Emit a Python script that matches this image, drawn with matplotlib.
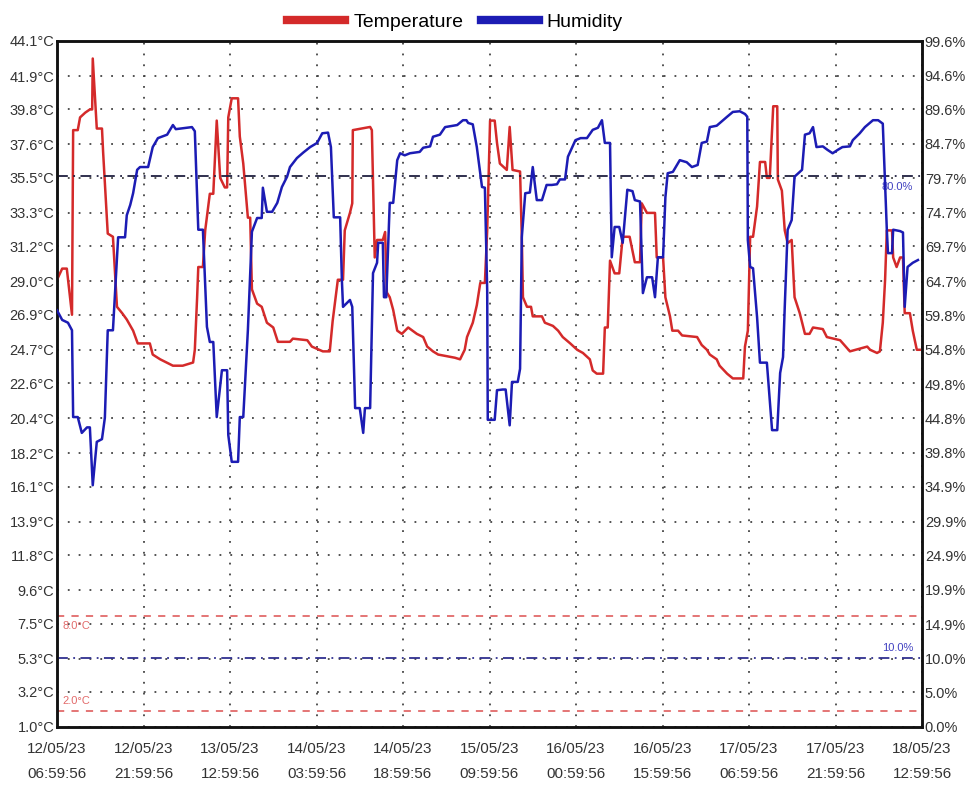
import matplotlib
matplotlib.use("Agg")
import matplotlib.pyplot as plt
from matplotlib.lines import Line2D
import pandas as pd

plt.rcParams['font.family'] = ['Liberation Sans', 'DejaVu Sans']

# hours since 12/05/23 06:59:56
temp_hours = [0.0, 0.9, 1.7, 2.6, 2.8, 3.6, 4.0, 4.9, 5.7, 6.1, 6.2, 6.9, 7.8, 8.0, 8.8, 9.7,
              10.4, 11.3, 12.1, 13.2, 14.0, 16.1, 16.6, 17.9, 20.1, 21.8, 23.6, 23.9, 24.3, 24.5,
              25.3, 25.7, 26.5, 27.1, 27.7, 28.3, 29.1, 29.5, 29.7, 30.3, 31.4, 31.7, 32.3, 33.1,
              33.5, 33.8, 34.7, 35.5, 36.4, 37.5, 38.3, 40.4, 40.9, 43.4, 44.2, 46.1, 47.3, 47.8,
              48.7, 49.6, 49.9, 50.8, 51.2, 51.3, 54.3, 54.6, 55.1, 55.5, 56.5, 56.9, 57.2, 57.7,
              58.3, 59.0, 59.8, 60.9, 62.4, 63.5, 64.2, 65.2, 66.1, 69.0, 69.9, 70.7, 71.1, 72.1,
              72.8, 73.4, 74.2, 74.6, 75.1, 75.9, 76.3, 76.8, 78.0, 78.5, 79.0, 80.3, 80.6, 80.8,
              81.5, 82.2, 82.5, 84.1, 84.6, 86.0, 86.9, 87.7, 89.0, 90.2, 91.2, 92.4, 92.9, 93.6,
              94.7, 95.0, 95.5, 95.9, 96.7, 97.5, 98.1, 99.3, 100.2, 101.1, 101.4, 102.3, 103.7,
              104.0, 105.1, 105.5, 106.3, 106.7, 107.7, 108.4, 111.0, 111.8, 112.7, 113.2, 114.4,
              114.9, 116.2, 117.2, 119.0, 119.3, 119.8, 120.2, 120.7, 121.4, 121.9, 122.8, 123.1,
              123.6, 124.2, 124.9, 125.0, 125.7, 126.2, 126.7, 127.4, 127.9, 128.8, 129.7, 130.5,
              131.1, 132.8, 133.5, 135.8, 137.5, 140.5, 141.0, 142.2, 142.7, 143.2, 143.6, 143.9,
              144.8, 145.0, 145.6, 146.2, 146.7, 147.0, 147.9, 148.4, 149.1, 149.6]
temperature = [29.1, 29.8, 29.8, 26.9, 38.5, 38.5, 39.3, 39.6, 39.8, 39.8, 43.0, 38.6, 38.6, 37.1,
               32.0, 31.8, 27.4, 27.0, 26.6, 25.9, 25.1, 25.1, 24.4, 24.1, 23.7, 23.7, 23.9, 24.7,
               28.0, 29.9, 29.9, 32.2, 34.5, 34.5, 39.1, 35.5, 34.9, 34.9, 39.3, 40.5, 40.5, 38.1,
               36.4, 33.0, 33.0, 28.5, 27.6, 27.4, 26.4, 26.1, 25.2, 25.2, 25.4, 25.3, 24.9, 24.6,
               24.6, 26.5, 29.1, 29.1, 32.2, 33.3, 33.9, 38.5, 38.7, 38.5, 30.5, 31.6, 31.6, 32.1,
               28.3, 28.0, 27.2, 25.9, 25.7, 26.1, 25.7, 25.5, 24.9, 24.6, 24.4, 24.2, 24.1, 24.7,
               25.5, 26.4, 27.5, 28.9, 28.9, 32.2, 39.1, 39.1, 37.7, 36.4, 36.0, 38.7, 36.0, 35.9,
               31.8, 28.0, 27.4, 27.4, 26.8, 26.8, 26.4, 26.2, 25.9, 25.5, 25.1, 24.7, 24.5, 24.1,
               23.4, 23.2, 23.2, 26.1, 26.1, 30.3, 29.5, 29.5, 31.8, 31.8, 30.2, 30.2, 33.9, 33.3,
               33.3, 30.5, 30.5, 28.0, 26.8, 25.9, 25.9, 25.6, 25.5, 25.0, 24.7, 24.4, 24.1, 23.7,
               23.2, 22.9, 22.9, 24.9, 25.9, 31.8, 31.8, 33.7, 36.5, 36.5, 35.5, 35.5, 40.0, 40.0,
               35.4, 34.7, 32.2, 31.4, 31.6, 28.0, 27.0, 25.7, 25.7, 26.1, 26.0, 25.5, 25.3, 24.6,
               24.9, 24.7, 24.5, 24.6, 26.4, 29.1, 32.2, 32.2, 30.5, 29.9, 30.5, 30.5, 27.0, 27.0,
               25.9, 24.7, 24.7]

hum_hours = [0.0, 0.9, 1.9, 2.6, 2.8, 3.6, 4.3, 5.2, 5.7, 6.2, 6.9, 7.8, 8.3, 8.8, 9.7, 10.6,
             11.8, 12.1, 12.7, 13.2, 13.9, 14.4, 15.8, 16.6, 17.5, 19.1, 20.1, 20.6, 23.4, 23.9,
             24.5, 25.3, 26.0, 26.5, 27.1, 27.7, 28.6, 29.5, 29.7, 30.3, 31.4, 31.7, 32.3, 33.1,
             33.8, 34.7, 35.5, 35.7, 36.4, 37.3, 38.2, 39.0, 39.9, 40.4, 41.6, 42.7, 43.9, 45.1,
             46.0, 47.0, 47.5, 48.0, 49.1, 49.4, 49.6, 50.8, 51.2, 51.7, 52.5, 53.1, 53.4, 54.3,
             54.8, 55.5, 55.7, 56.5, 56.7, 57.1, 57.7, 58.3, 59.0, 59.5, 60.3, 61.2, 62.9, 63.5,
             64.7, 65.2, 66.4, 67.3, 68.7, 69.4, 70.4, 71.0, 71.3, 72.1, 72.8, 73.7, 74.2, 74.6,
             74.7, 75.9, 76.3, 77.3, 77.8, 78.5, 78.9, 79.9, 80.3, 80.6, 81.2, 82.0, 82.5, 83.2,
             84.1, 84.9, 85.8, 86.7, 87.2, 88.1, 88.6, 89.9, 90.8, 91.9, 92.9, 93.8, 94.5, 95.0,
             95.9, 96.2, 96.7, 97.5, 98.1, 98.9, 99.8, 100.2, 101.1, 101.6, 102.3, 103.2, 103.7,
             104.2, 105.1, 105.5, 105.9, 106.8, 108.0, 109.2, 110.1, 111.1, 111.8, 112.7, 113.2,
             114.4, 116.2, 117.2, 118.4, 119.3, 119.7, 119.8, 120.2, 120.7, 121.4, 121.9, 123.1,
             124.0, 124.9, 125.4, 125.9, 126.2, 126.7, 127.4, 127.9, 129.2, 129.7, 130.5, 131.1,
             131.7, 132.8, 133.6, 134.5, 135.4, 136.2, 137.5, 138.0, 139.2, 140.1, 141.5, 142.4,
             143.2, 143.9, 144.1, 144.8, 145.0, 146.2, 146.7, 147.0, 147.5, 148.4, 149.3]
humidity = [60.5, 59.1, 58.7, 57.6, 45.0, 45.0, 42.7, 43.5, 43.5, 35.1, 41.4, 41.8, 44.9, 57.6,
            57.6, 71.1, 71.1, 74.3, 75.8, 77.5, 80.9, 81.3, 81.3, 84.2, 85.5, 86.0, 87.4, 86.8,
            87.1, 86.5, 72.2, 72.2, 58.1, 55.9, 55.9, 45.0, 51.8, 51.8, 42.4, 38.5, 38.5, 45.0,
            45.0, 57.6, 71.9, 73.9, 73.9, 78.3, 74.8, 74.8, 76.1, 78.4, 79.9, 81.3, 82.6, 83.4,
            84.2, 84.8, 86.2, 86.3, 84.2, 74.0, 74.0, 64.9, 61.0, 62.0, 61.0, 46.3, 46.3, 42.7,
            46.3, 46.3, 65.9, 67.4, 70.3, 70.3, 62.4, 62.4, 76.1, 76.1, 82.3, 83.3, 83.0, 83.3,
            83.5, 84.1, 84.3, 85.7, 86.0, 87.1, 87.3, 87.4, 88.1, 88.1, 87.7, 87.5, 84.2, 78.4,
            78.3, 63.4, 44.6, 44.6, 48.9, 49.0, 49.0, 43.8, 50.1, 50.1, 52.0, 71.1, 77.5, 77.6,
            81.3, 76.5, 76.5, 78.7, 78.7, 78.8, 79.5, 79.5, 82.8, 85.2, 85.5, 85.5, 86.7, 87.0,
            88.1, 84.8, 84.8, 68.2, 72.6, 72.6, 70.3, 78.0, 77.8, 76.5, 76.3, 63.0, 65.3, 65.3,
            62.4, 68.2, 68.2, 76.9, 80.4, 80.6, 82.3, 82.0, 81.3, 81.6, 84.8, 85.0, 87.1, 87.3,
            88.6, 89.3, 89.4, 89.0, 88.6, 70.7, 66.8, 66.6, 59.5, 52.9, 52.9, 43.1, 43.1, 51.4,
            53.7, 61.0, 72.2, 73.6, 79.9, 80.9, 86.0, 86.2, 87.1, 84.2, 84.3, 83.8, 83.3, 83.8,
            84.2, 84.3, 85.2, 86.2, 87.1, 88.1, 88.1, 87.6, 72.2, 68.8, 68.8, 72.2, 72.0, 71.8,
            61.0, 66.8, 67.4, 67.8]

temp_ticks = [1.0, 3.2, 5.3, 7.5, 9.6, 11.8, 13.9, 16.1, 18.2, 20.4, 22.6, 24.7, 26.9, 29.0,
              31.2, 33.3, 35.5, 37.6, 39.8, 41.9, 44.1]
hum_ticks = [0.0, 5.0, 10.0, 14.9, 19.9, 24.9, 29.9, 34.9, 39.8, 44.8, 49.8, 54.8, 59.8, 64.7,
             69.7, 74.7, 79.7, 84.7, 89.6, 94.6, 99.6]
start_time = pd.Timestamp('2023-05-12 06:59:56')
x_tick_hours = [0, 15, 30, 45, 60, 75, 90, 105, 120, 135, 150]
temp_limits = [8.0, 2.0]
hum_limits = [80.0, 10.0]

x_labels = [(start_time + pd.Timedelta(hours=h)).strftime('%d/%m/%y\n%H:%M:%S') for h in x_tick_hours]

RED = '#d42a2a'
BLUE = '#1c1cb4'

fig = plt.figure(figsize=(9.66, 7.85), dpi=100)
ax = fig.add_axes([57 / 966, 1 - 727 / 785, (922 - 57) / 966, (727 - 41) / 785])
ax2 = ax.twinx()

ax.set_xlim(0, 150)
ax.set_ylim(1.0, 44.1)
ax2.set_ylim(0.0, 99.6)

ax.set_xticks(x_tick_hours)
ax.set_xticklabels(x_labels, linespacing=1.95)
ax.set_yticks(temp_ticks)
ax.set_yticklabels([f'{v:.1f}°C' for v in temp_ticks])
ax2.set_yticks(hum_ticks)
ax2.set_yticklabels([f'{v:.1f}%' for v in hum_ticks])

for a in (ax, ax2):
    a.tick_params(length=0, labelsize=10.5, labelcolor='#333333', pad=2)
    for s in a.spines.values():
        s.set_linewidth(1.8)
        s.set_color('#111111')
ax.tick_params(axis='x', pad=11, labelsize=11)

ax.grid(True, color='#444444', linestyle=(0, (1, 5)), linewidth=1.3)

# limit lines
for v in temp_limits:
    ax.axhline(v, color='#e26a6a', linestyle=(0, (4, 4)), linewidth=1.3)
ax.text(1.0, temp_limits[0] - 0.35, f'{temp_limits[0]:.1f}°C', color='#e26a6a', fontsize=8,
        va='top', ha='left')
ax.text(1.0, temp_limits[1] + 0.35, f'{temp_limits[1]:.1f}°C', color='#e26a6a', fontsize=8,
        va='bottom', ha='left')
ax2.axhline(hum_limits[0], color='#202040', linestyle=(0, (6, 3, 1, 3)), linewidth=1.3)
ax2.axhline(hum_limits[1], color='#303090', linestyle=(0, (6, 3, 1, 3)), linewidth=1.3)
ax2.text(148.5, hum_limits[0] - 0.8, f'{hum_limits[0]:.1f}%', color='#4040c0', fontsize=8,
         va='top', ha='right')
ax2.text(148.5, hum_limits[1] + 0.8, f'{hum_limits[1]:.1f}%', color='#4040c0', fontsize=8,
         va='bottom', ha='right')

ax.plot(temp_hours, temperature, color=RED, linewidth=1.8, zorder=3)
ax2.plot(hum_hours, humidity, color=BLUE, linewidth=1.8, zorder=3)

handles = [Line2D([], [], color=RED, linewidth=6), Line2D([], [], color=BLUE, linewidth=6)]
fig.legend(handles, ['Temperature', 'Humidity'], loc='upper center', bbox_to_anchor=(0.471, 1.005),
           ncol=2, frameon=False, fontsize=14, handlelength=3.0, handletextpad=0.4,
           columnspacing=0.9)

fig.savefig('out.png', dpi=100)
